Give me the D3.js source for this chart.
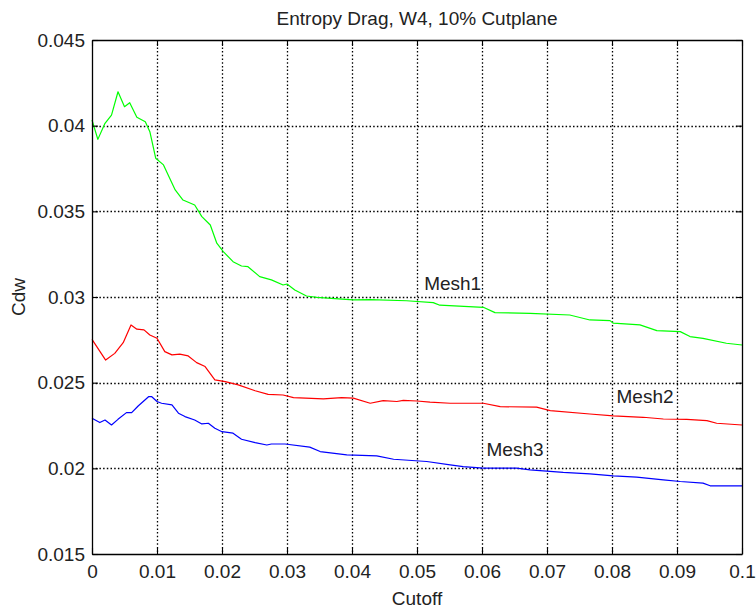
<!DOCTYPE html>
<html>
<head>
<meta charset="utf-8">
<script src="https://cdn.jsdelivr.net/npm/d3@7"></script>
<style>
  html, body { margin: 0; padding: 0; background: #fff; }
  svg { display: block; font-family: "Liberation Sans", Arial, sans-serif; }
</style>
</head>
<body>
<svg id="chart" width="756" height="614"></svg>
<script>
// Cutoff values and Cdw readings for each mesh
const mesh1Cutoff = [0.0000,0.0009,0.0020,0.0030,0.0040,0.0050,0.0058,0.0069,0.0082,0.0089,0.0098,0.0110,0.0128,0.0140,0.0158,0.0169,0.0182,0.0192,0.0202,0.0217,0.0230,0.0240,0.0258,0.0276,0.0294,0.0300,0.0312,0.0330,0.0346,0.0402,0.0428,0.0484,0.0525,0.0535,0.0602,0.0620,0.0674,0.0735,0.0766,0.0797,0.0802,0.0843,0.0869,0.0905,0.0920,0.0940,0.0976,0.1000];
const mesh1Cdw = [0.04033,0.03920,0.04014,0.04062,0.04198,0.04111,0.04134,0.04049,0.04023,0.03965,0.03810,0.03771,0.03625,0.03566,0.03537,0.03469,0.03420,0.03314,0.03265,0.03206,0.03181,0.03177,0.03119,0.03100,0.03070,0.03076,0.03041,0.03006,0.02998,0.02983,0.02985,0.02978,0.02967,0.02952,0.02940,0.02909,0.02905,0.02895,0.02866,0.02862,0.02847,0.02837,0.02804,0.02798,0.02769,0.02759,0.02730,0.02720];

const mesh2Cutoff = [0.0000,0.0021,0.0035,0.0048,0.0060,0.0069,0.0080,0.0089,0.0100,0.0112,0.0123,0.0135,0.0148,0.0161,0.0174,0.0189,0.0205,0.0225,0.0251,0.0271,0.0294,0.0310,0.0356,0.0384,0.0402,0.0428,0.0448,0.0469,0.0479,0.0500,0.0520,0.0551,0.0602,0.0628,0.0684,0.0705,0.0766,0.0802,0.0848,0.0879,0.0915,0.0946,0.0961,0.1000];
const mesh2Cdw = [0.02753,0.02632,0.02671,0.02733,0.02837,0.02812,0.02808,0.02778,0.02759,0.02681,0.02662,0.02667,0.02656,0.02617,0.02594,0.02516,0.02506,0.02487,0.02453,0.02432,0.02428,0.02413,0.02405,0.02413,0.02410,0.02380,0.02395,0.02390,0.02397,0.02393,0.02386,0.02380,0.02380,0.02360,0.02357,0.02337,0.02317,0.02306,0.02298,0.02288,0.02286,0.02278,0.02263,0.02253];

const mesh3Cutoff = [0.0000,0.0012,0.0020,0.0030,0.0040,0.0053,0.0061,0.0071,0.0087,0.0092,0.0100,0.0107,0.0123,0.0133,0.0143,0.0158,0.0169,0.0179,0.0189,0.0200,0.0217,0.0230,0.0251,0.0269,0.0276,0.0297,0.0335,0.0351,0.0392,0.0438,0.0464,0.0515,0.0551,0.0571,0.0602,0.0653,0.0674,0.0725,0.0766,0.0802,0.0838,0.0879,0.0905,0.0940,0.0951,0.1000];
const mesh3Cdw = [0.02292,0.02267,0.02282,0.02253,0.02286,0.02325,0.02325,0.02364,0.02418,0.02418,0.02390,0.02380,0.02370,0.02322,0.02302,0.02282,0.02259,0.02263,0.02234,0.02214,0.02205,0.02170,0.02150,0.02136,0.02142,0.02142,0.02124,0.02098,0.02079,0.02073,0.02053,0.02040,0.02020,0.02010,0.02001,0.02001,0.01991,0.01976,0.01968,0.01956,0.01949,0.01933,0.01923,0.01914,0.01898,0.01898];

const seriesNames = ["Mesh1", "Mesh2", "Mesh3"];
const seriesColors = ["#00ff00", "#ff0000", "#0000ff"];

// Where each curve's name is written (data coordinates)
const labelCutoff = [0.0511, 0.0807, 0.0607];
const labelCdw = [0.03076, 0.02417, 0.02105];

const xTicks = [0, 0.01, 0.02, 0.03, 0.04, 0.05, 0.06, 0.07, 0.08, 0.09, 0.1];
const xTickLabels = ["0", "0.01", "0.02", "0.03", "0.04", "0.05", "0.06", "0.07", "0.08", "0.09", "0.1"];
const yTicks = [0.015, 0.02, 0.025, 0.03, 0.035, 0.04, 0.045];
const yTickLabels = ["0.015", "0.02", "0.025", "0.03", "0.035", "0.04", "0.045"];

const titleText = "Entropy Drag, W4, 10% Cutplane";
const xLabelText = "Cutoff";
const yLabelText = "Cdw";

// Layout
const svg = d3.select("#chart");
const plotLeft = 92, plotTop = 40, plotRight = 742, plotBottom = 554;
const fontSize = 19;

const x = d3.scaleLinear().domain([0, 0.1]).range([plotLeft, plotRight]);
const y = d3.scaleLinear().domain([0.015, 0.045]).range([plotBottom, plotTop]);

svg.append("rect").attr("width", 756).attr("height", 614).attr("fill", "#fff");

// Dotted grid
const grid = svg.append("g").attr("stroke", "#000").attr("stroke-width", 1.3)
  .attr("stroke-dasharray", "1.5,2.2");
grid.selectAll("line.gx").data(xTicks.slice(1, -1)).join("line")
  .attr("x1", d => Math.round(x(d)) + 0.5).attr("x2", d => Math.round(x(d)) + 0.5)
  .attr("y1", plotTop).attr("y2", plotBottom);
grid.selectAll("line.gy").data(yTicks.slice(1, -1)).join("line")
  .attr("y1", d => Math.round(y(d)) + 0.5).attr("y2", d => Math.round(y(d)) + 0.5)
  .attr("x1", plotLeft).attr("x2", plotRight);

// Data lines
const allSeries = [
  { cut: mesh1Cutoff, val: mesh1Cdw },
  { cut: mesh2Cutoff, val: mesh2Cdw },
  { cut: mesh3Cutoff, val: mesh3Cdw }
];
const line = d3.line().x(d => x(d[0])).y(d => y(d[1]));
allSeries.forEach((s, i) => {
  const pts = s.cut.map((c, k) => [c, s.val[k]]);
  svg.append("path").datum(pts)
    .attr("fill", "none")
    .attr("stroke", seriesColors[i])
    .attr("stroke-width", 1.2)
    .attr("stroke-linejoin", "round")
    .attr("d", line);
});

// Axes with inward ticks on all four sides
const fmtX = d => xTickLabels[xTicks.indexOf(d)];
const fmtY = d => yTickLabels[yTicks.indexOf(d)];

const axB = svg.append("g").attr("transform", `translate(0,${plotBottom})`)
  .call(d3.axisBottom(x).tickValues(xTicks).tickFormat(fmtX).tickSizeInner(-6).tickSizeOuter(0).tickPadding(11));
const axT = svg.append("g").attr("transform", `translate(0,${plotTop})`)
  .call(d3.axisTop(x).tickValues(xTicks).tickFormat("").tickSizeInner(-6).tickSizeOuter(0));
const axL = svg.append("g").attr("transform", `translate(${plotLeft},0)`)
  .call(d3.axisLeft(y).tickValues(yTicks).tickFormat(fmtY).tickSizeInner(-6).tickSizeOuter(0).tickPadding(7));
const axR = svg.append("g").attr("transform", `translate(${plotRight},0)`)
  .call(d3.axisRight(y).tickValues(yTicks).tickFormat("").tickSizeInner(-6).tickSizeOuter(0));

[axB, axT, axL, axR].forEach(g => {
  g.select(".domain").attr("stroke", "#000").attr("stroke-width", 1.3);
  g.selectAll(".tick line").attr("stroke", "#000").attr("stroke-width", 1.1);
  g.selectAll("text").attr("font-size", fontSize).attr("fill", "#222")
    .attr("font-family", "'Liberation Sans', Arial, sans-serif");
});

// Series names
svg.append("g").selectAll("text").data(seriesNames).join("text")
  .attr("x", (d, i) => x(labelCutoff[i]))
  .attr("y", (d, i) => y(labelCdw[i]))
  .attr("dy", "0.32em")
  .attr("font-size", fontSize)
  .attr("fill", "#222")
  .text(d => d);

// Title and axis labels
svg.append("text").attr("x", (plotLeft + plotRight) / 2).attr("y", 25)
  .attr("text-anchor", "middle").attr("font-size", fontSize).attr("fill", "#222")
  .text(titleText);
svg.append("text").attr("x", (plotLeft + plotRight) / 2).attr("y", 605)
  .attr("text-anchor", "middle").attr("font-size", fontSize).attr("fill", "#222")
  .text(xLabelText);
svg.append("text")
  .attr("transform", `translate(25,${(plotTop + plotBottom) / 2}) rotate(-90)`)
  .attr("text-anchor", "middle").attr("font-size", fontSize).attr("fill", "#222")
  .text(yLabelText);
</script>
</body>
</html>
